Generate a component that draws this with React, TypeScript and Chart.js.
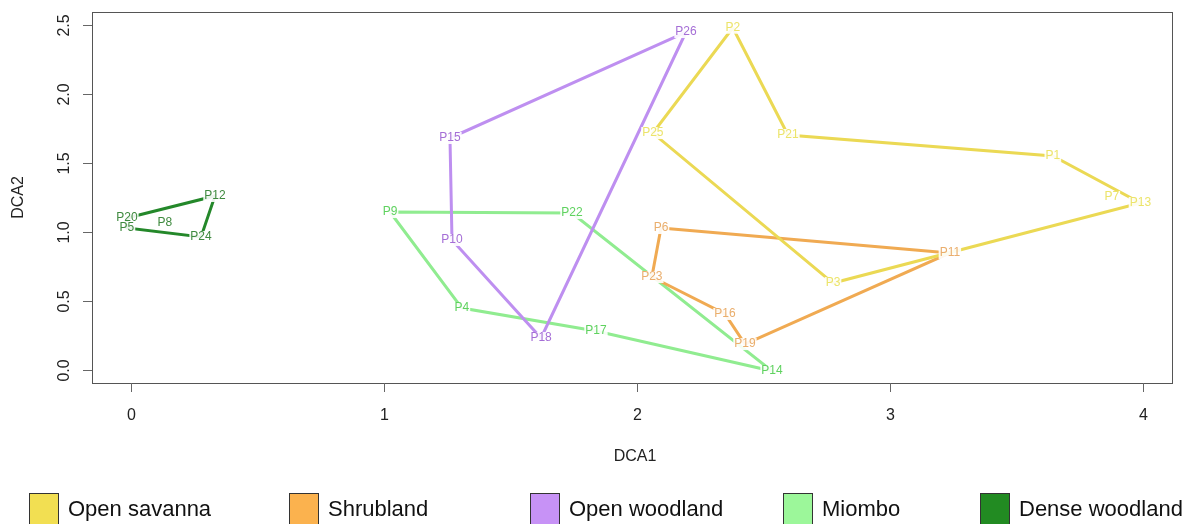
import React, { useEffect, useRef } from "react";
import { Chart, registerables } from "chart.js";

Chart.register(...registerables);

// ---- data ----
const groups = ["Open savanna", "Shrubland", "Open woodland", "Miombo", "Dense woodland"];

const sites = [
  "P1", "P2", "P3", "P4", "P5", "P6", "P7", "P8", "P9", "P10", "P11", "P12", "P13",
  "P14", "P15", "P16", "P17", "P18", "P19", "P20", "P21", "P22", "P23", "P24", "P25", "P26",
];
const dca1 = [
  3.644, 2.379, 2.775, 1.308, -0.016, 2.095, 3.877, 0.134, 1.024, 1.269, 3.237, 0.332, 3.99,
  2.534, 1.261, 2.348, 1.838, 1.621, 2.427, -0.016, 2.597, 1.743, 2.059, 0.277, 2.063, 2.194,
];
const dca2 = [
  1.551, 2.48, 0.63, 0.449, 1.029, 1.029, 1.254, 1.065, 1.145, 0.942, 0.848, 1.261, 1.21,
  -0.007, 1.681, 0.406, 0.283, 0.232, 0.188, 1.101, 1.703, 1.138, 0.674, 0.964, 1.717, 2.449,
];
const siteGroup = [
  0, 0, 0, 3, 4, 1, 0, 4, 3, 2, 1, 4, 0,
  3, 2, 1, 3, 2, 1, 4, 0, 3, 1, 4, 0, 2,
];

const hullOpenSavanna = ["P2", "P21", "P1", "P13", "P3", "P25"];
const hullShrubland = ["P6", "P11", "P19", "P16", "P23"];
const hullOpenWoodland = ["P26", "P15", "P10", "P18"];
const hullMiombo = ["P9", "P22", "P14", "P17", "P4"];
const hullDenseWoodland = ["P20", "P12", "P24", "P5"];
const hulls = [hullOpenSavanna, hullShrubland, hullOpenWoodland, hullMiombo, hullDenseWoodland];

const xTicks = [0, 1, 2, 3, 4];
const yTicks = [0, 0.5, 1, 1.5, 2, 2.5];
const xTickLabels = ["0", "1", "2", "3", "4"];
const yTickLabels = ["0.0", "0.5", "1.0", "1.5", "2.0", "2.5"];

// ---- styles ----
const lineColors = ["#ebd954", "#f0aa52", "#be8ff0", "#90ec90", "#24882a"];
const legendColors = ["#f2df52", "#fbb24e", "#c792f6", "#9cf79a", "#228b22"];
const labelColors = ["#ece46a", "#eaae6c", "#a56ed6", "#5fd25f", "#3f8a3f"];
const FONT = "'Liberation Sans', Arial, Helvetica, sans-serif";
const legendBoxX = [29, 289, 530, 783, 980];

const idx = (name: string) => sites.indexOf(name);

const rPlot = {
  id: "rPlot",
  afterDatasetsDraw(chart: any) {
    const ctx = chart.ctx;
    const xs = chart.scales.x;
    const ys = chart.scales.y;
    ctx.save();
    ctx.font = `12px ${FONT}`;
    ctx.textAlign = "center";
    ctx.textBaseline = "middle";
    sites.forEach((s, i) => {
      const px = xs.getPixelForValue(dca1[i]);
      const py = ys.getPixelForValue(dca2[i]);
      const w = ctx.measureText(s).width;
      ctx.fillStyle = "rgba(255,255,255,0.9)";
      ctx.fillRect(px - w / 2 - 1, py - 6, w + 2, 12);
    });
    sites.forEach((s, i) => {
      const px = xs.getPixelForValue(dca1[i]);
      const py = ys.getPixelForValue(dca2[i]);
      ctx.fillStyle = labelColors[siteGroup[i]];
      ctx.fillText(s, px, py);
    });
    ctx.restore();
  },
  afterDraw(chart: any) {
    const ctx = chart.ctx;
    const a = chart.chartArea;
    const xs = chart.scales.x;
    const ys = chart.scales.y;
    ctx.save();
    // box
    ctx.strokeStyle = "#555";
    ctx.lineWidth = 1;
    ctx.strokeRect(Math.round(a.left) + 0.5, Math.round(a.top) + 0.5, Math.round(a.right - a.left), Math.round(a.bottom - a.top));
    // ticks
    ctx.strokeStyle = "#666";
    ctx.fillStyle = "#222";
    ctx.font = `16px ${FONT}`;
    ctx.textAlign = "center";
    ctx.textBaseline = "middle";
    xTicks.forEach((v, i) => {
      const px = Math.round(xs.getPixelForValue(v)) + 0.5;
      ctx.beginPath();
      ctx.moveTo(px, a.bottom);
      ctx.lineTo(px, a.bottom + 9);
      ctx.stroke();
      ctx.fillText(xTickLabels[i], px, 416);
    });
    yTicks.forEach((v, i) => {
      const py = Math.round(ys.getPixelForValue(v)) + 0.5;
      ctx.beginPath();
      ctx.moveTo(a.left, py);
      ctx.lineTo(a.left - 9, py);
      ctx.stroke();
      ctx.save();
      ctx.translate(65, py);
      ctx.rotate(-Math.PI / 2);
      ctx.fillText(yTickLabels[i], 0, 0);
      ctx.restore();
    });
    // axis titles
    ctx.fillText("DCA1", (a.left + a.right) / 2 + 3, 457);
    ctx.save();
    ctx.translate(19, (a.top + a.bottom) / 2);
    ctx.rotate(-Math.PI / 2);
    ctx.fillText("DCA2", 0, 0);
    ctx.restore();
    // legend
    ctx.font = `22px ${FONT}`;
    ctx.textAlign = "left";
    groups.forEach((g, i) => {
      const bx = legendBoxX[i];
      ctx.fillStyle = legendColors[i];
      ctx.fillRect(bx, 493, 29, 40);
      ctx.strokeStyle = "#333";
      ctx.strokeRect(bx + 0.5, 493.5, 29, 40);
      ctx.fillStyle = "#111";
      ctx.fillText(g, bx + 39, 510);
    });
    ctx.restore();
  },
};

export default function App() {
  const ref = useRef<HTMLCanvasElement | null>(null);
  useEffect(() => {
    if (!ref.current) return;
    const datasets = hulls.map((h, gi) => {
      const pts = h.map((n) => ({ x: dca1[idx(n)], y: dca2[idx(n)] }));
      pts.push(pts[0]);
      return {
        label: groups[gi],
        data: pts,
        showLine: true,
        borderColor: lineColors[gi],
        backgroundColor: lineColors[gi],
        borderWidth: 3,
        pointRadius: 0,
        tension: 0,
        fill: false,
      };
    });
    const chart = new Chart(ref.current, {
      type: "scatter",
      data: { datasets },
      options: {
        animation: false,
        responsive: false,
        devicePixelRatio: 1,
        layout: { padding: { left: 92, top: 12, right: 23, bottom: 141 } },
        plugins: { legend: { display: false }, tooltip: { enabled: false } },
        scales: {
          x: { type: "linear", display: false, min: -0.154, max: 4.115 },
          y: { type: "linear", display: false, min: -0.094, max: 2.594 },
        },
      },
      plugins: [rPlot],
    });
    return () => chart.destroy();
  }, []);
  return (
    <div style={{ position: "absolute", left: 0, top: 0, width: 1195, height: 524, background: "#fff", overflow: "hidden" }}>
      <canvas ref={ref} width={1195} height={524} style={{ display: "block" }} />
    </div>
  );
}
